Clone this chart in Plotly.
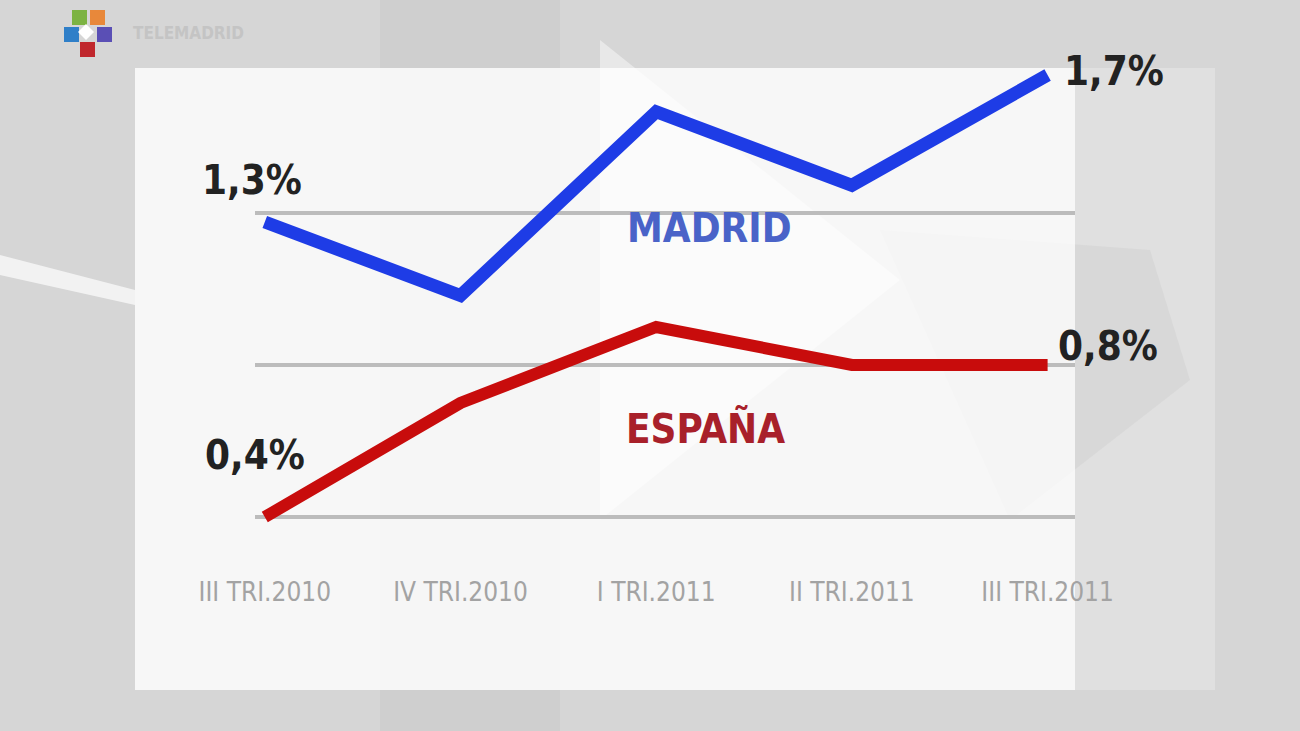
import plotly.graph_objects as go

# ---- data ----
quarters = ["III TRI.2010", "IV TRI.2010", "I TRI.2011", "II TRI.2011", "III TRI.2011"]
madrid = [1.3, 1.1, 1.6, 1.4, 1.7]
espana = [0.4, 0.7, 0.9, 0.8, 0.8]
grid_levels = [0.4, 0.8, 1.2]

FONT = "DejaVu Sans Condensed, DejaVu Sans, sans-serif"
W, H = 1300, 731

def px_x(p):
    return p / W

def px_y(p):
    return 1 - p / H

xi = list(range(len(quarters)))

fig = go.Figure()
fig.add_trace(go.Scatter(x=xi, y=espana, mode="lines", name="ESPAÑA",
                         line=dict(color="#c80c0c", width=12), yaxis="y",
                         hoverinfo="skip"))
fig.add_trace(go.Scatter(x=xi, y=madrid, mode="lines", name="MADRID",
                         line=dict(color="#1e3ce6", width=13), yaxis="y2",
                         hoverinfo="skip"))

shapes = []
# background decorations
shapes.append(dict(type="rect", xref="paper", yref="paper", x0=0, x1=1, y0=0, y1=1,
                   fillcolor="#d6d6d6", line_width=0, layer="below"))
shapes.append(dict(type="rect", xref="paper", yref="paper", x0=px_x(380), x1=px_x(560),
                   y0=px_y(731), y1=px_y(0), fillcolor="rgba(200,200,200,0.45)",
                   line_width=0, layer="below"))
shapes.append(dict(type="path", xref="paper", yref="paper",
                   path="M %f,%f L %f,%f L %f,%f Z" % (px_x(600), px_y(40), px_x(900), px_y(280),
                                                      px_x(600), px_y(520)),
                   fillcolor="rgba(240,240,240,0.7)", line_width=0, layer="below"))
shapes.append(dict(type="path", xref="paper", yref="paper",
                   path="M %f,%f L %f,%f L %f,%f L %f,%f Z" % (px_x(880), px_y(230), px_x(1150), px_y(250),
                                                               px_x(1190), px_y(380), px_x(1010), px_y(520)),
                   fillcolor="rgba(190,190,190,0.45)", line_width=0, layer="below"))
shapes.append(dict(type="path", xref="paper", yref="paper",
                   path="M %f,%f L %f,%f L %f,%f L %f,%f Z" % (px_x(0), px_y(255), px_x(135), px_y(290),
                                                               px_x(135), px_y(305), px_x(0), px_y(275)),
                   fillcolor="rgba(245,245,245,0.9)", line_width=0, layer="below"))
# white panel
shapes.append(dict(type="rect", xref="paper", yref="paper", x0=px_x(135), x1=px_x(1075),
                   y0=px_y(690), y1=px_y(68), fillcolor="rgba(255,255,255,0.8)",
                   line_width=0, layer="below"))
shapes.append(dict(type="rect", xref="paper", yref="paper", x0=px_x(1075), x1=px_x(1215),
                   y0=px_y(690), y1=px_y(68), fillcolor="rgba(255,255,255,0.25)",
                   line_width=0, layer="below"))
# logo squares
logo = [(72, 10, "#7cb342"), (90, 10, "#e8883a"), (64, 27, "#2f7fc8"),
        (97, 27, "#5a4fb5"), (80, 42, "#c0272d")]
for (lx, ly, c) in logo:
    shapes.append(dict(type="rect", xref="paper", yref="paper", x0=px_x(lx), x1=px_x(lx + 15),
                       y0=px_y(ly + 15), y1=px_y(ly), fillcolor=c, line_width=0, layer="below"))
shapes.append(dict(type="path", xref="paper", yref="paper",
                   path="M %f,%f L %f,%f L %f,%f L %f,%f Z" % (px_x(86), px_y(24), px_x(94), px_y(32),
                                                               px_x(86), px_y(40), px_x(78), px_y(32)),
                   fillcolor="white", line_width=0, layer="below"))

VAL = dict(family=FONT, size=40, color="#222222", weight="bold")
annotations = [
    dict(x=0, y=1.3, xref="x", yref="y2", text="1,3%", showarrow=False, xshift=-13, yshift=42,
         font=VAL),
    dict(x=0, y=0.4, xref="x", yref="y", text="0,4%", showarrow=False, xshift=-10, yshift=62,
         font=VAL),
    dict(x=4, y=1.7, xref="x", yref="y2", text="1,7%", showarrow=False, xanchor="left",
         xshift=14, yshift=4, font=VAL),
    dict(x=4, y=0.8, xref="x", yref="y", text="0,8%", showarrow=False, xanchor="left",
         xshift=8, yshift=19, font=VAL),
    dict(x=2.27, y=1.284, xref="x", yref="y2", text="MADRID", showarrow=False,
         font=dict(family=FONT, size=40, color="#4a63c8", weight="bold")),
    dict(x=2.25, y=0.634, xref="x", yref="y", text="ESPAÑA", showarrow=False,
         font=dict(family=FONT, size=40, color="#a8202a", weight="bold")),
    dict(x=px_x(188), y=px_y(33), xref="paper", yref="paper", text="<b>TELEMADRID</b>",
         xanchor="center", yanchor="middle",
         showarrow=False, font=dict(family=FONT, size=17, color="#c4c4c4")),
]

fig.update_layout(
    width=W, height=H,
    margin=dict(l=0, r=0, t=0, b=0, pad=0, autoexpand=False),
    paper_bgcolor="#d6d6d6",
    plot_bgcolor="rgba(0,0,0,0)",
    showlegend=False,
    shapes=shapes,
    annotations=annotations,
    xaxis=dict(domain=[px_x(255), px_x(1075)], range=[-0.05, 4.14], automargin=False,
               tickvals=xi, ticktext=quarters, showgrid=False, zeroline=False,
               showline=False, ticks="", ticklabelstandoff=34,
               tickfont=dict(family=FONT, size=26, color="#a3a3a3")),
    yaxis=dict(domain=[px_y(540), px_y(60)], range=[0.3395, 1.6026], automargin=False,
               tickvals=grid_levels, showticklabels=False, showgrid=True,
               gridcolor="#bcbcbc", gridwidth=4, zeroline=False, showline=False),
    yaxis2=dict(domain=[px_y(540), px_y(60)], range=[0.4347, 1.7408], overlaying="y",
                automargin=False, showgrid=False, showticklabels=False, zeroline=False,
                showline=False),
)

fig.write_html("out.html", config={"displayModeBar": False},
               post_script="document.body.style.margin='0';document.body.style.overflow='hidden';")
